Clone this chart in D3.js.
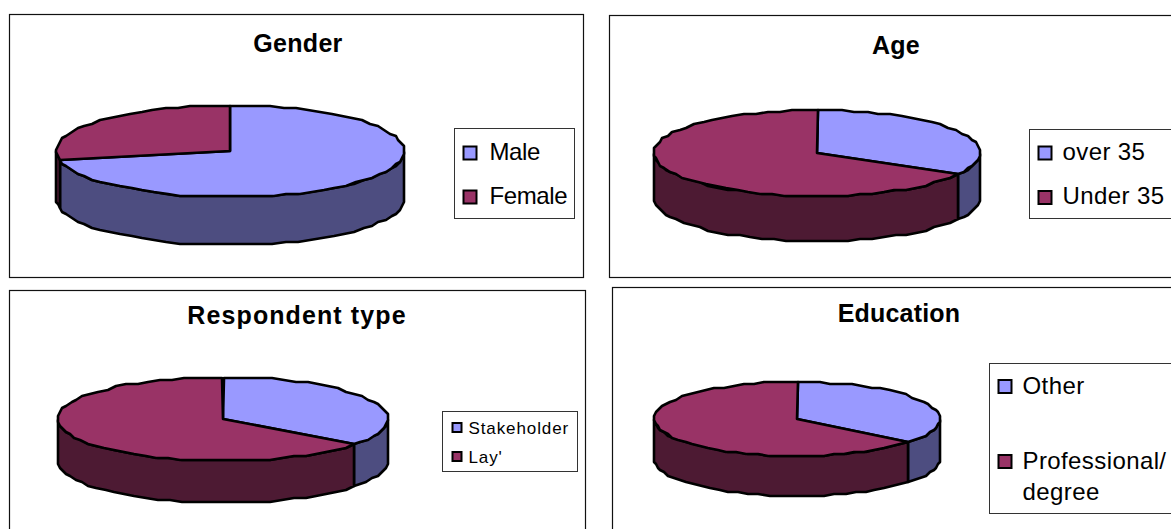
<!DOCTYPE html>
<html>
<head>
<meta charset="utf-8">
<style>
html,body{margin:0;padding:0;background:#fff;overflow:hidden}
svg{display:block}
text{font-family:"Liberation Sans",Arial,sans-serif;fill:#000}
</style>
<script src="https://cdn.jsdelivr.net/npm/d3@7"></script>
</head>
<body>
<svg id="chart" width="1171" height="529"></svg>
<script>
// Survey sample breakdowns
const titles = ["Gender", "Age", "Respondent type", "Education"];
const genderLabels = ["Male", "Female"];
const genderValues = [72, 28];
const ageLabels = ["over 35", "Under 35"];
const ageValues = [33.5, 66.5];
const respondentLabels = ["Stakeholder", "Lay'"];
const respondentValues = [35.5, 64.5];
const educationLabels = ["Other", ["Professional/", "degree"]];
const educationValues = [36, 64];

const topColours = ["#9999ff", "#993366"];
const wallColours = ["#4d4d80", "#4d1a33"];

// Panel geometry, kept apart from the values
const layouts = [
  {labels: genderLabels, values: genderValues,
   box: [9.5, 14.5, 574, 263], cx: 230, cy: 151, rx: 174, ry: 46, depth: 48,
   titleX: 298, titleY: 52, titleGap: 0.3,
   legend: {x: 454.5, y: 128.5, w: 120, h: 90, sw: 13, swX: 9, textX: 35, size: 24, gap: -0.4, rows: [24.5, 68.5], base: 6.5}},
  {labels: ageLabels, values: ageValues,
   box: [609.5, 15.5, 600, 262], cx: 817, cy: 153, rx: 163, ry: 43, depth: 45,
   titleX: 896, titleY: 54, titleGap: 0.3,
   legend: {x: 1029.5, y: 129.5, w: 160, h: 89, sw: 13, swX: 9, textX: 33, size: 24, gap: 0.4, rows: [23.5, 68], base: 6.5}},
  {labels: respondentLabels, values: respondentValues,
   box: [9.5, 290.5, 576, 260], cx: 223, cy: 419, rx: 165, ry: 42, depth: 42,
   titleX: 297, titleY: 324, titleGap: 1.1,
   legend: {x: 442.5, y: 411.5, w: 135, h: 60, sw: 9, swX: 10, textX: 26, size: 17, gap: 0.9, rows: [16, 45], base: 6}},
  {labels: educationLabels, values: educationValues,
   box: [612.5, 287.5, 600, 260], cx: 797, cy: 419, rx: 143, ry: 37, depth: 40,
   titleX: 899, titleY: 322, titleGap: 0.2,
   legend: {x: 989.5, y: 363.5, w: 200, h: 150, sw: 13, swX: 9, textX: 33, size: 24, gap: 0.4, rows: [23, 98], base: 7, lineGap: 31}}
];
layouts.forEach((d, i) => { d.title = titles[i]; });

const svg = d3.select("#chart");
const pie = d3.pie().sort(null).value(d => d).startAngle(0).endAngle(2 * Math.PI);
const RIM_STEP = Math.PI / 40;
const RIM_SNAP = 2;
const polygon = d3.line().curve(d3.curveLinearClosed);
const snap = v => Math.round(v / RIM_SNAP) * RIM_SNAP;

// Angle samples along an arc, snapped to a coarse grid to give the rim its faceted edge
function rim(p, a0, a1, dy) {
  const n = Math.max(1, Math.ceil((a1 - a0) / RIM_STEP));
  const t = d3.scaleLinear().domain([0, n]).range([a0, a1]);
  const x = d3.scaleLinear().domain([-1, 1]).range([p.cx - p.rx, p.cx + p.rx]);
  const y = d3.scaleLinear().domain([-1, 1]).range([p.cy - p.ry, p.cy + p.ry]);
  return d3.range(n + 1).map(k => {
    const a = t(k);
    return [snap(x(Math.sin(a))), snap(y(-Math.cos(a))) + dy];
  });
}

function drawPanel(p) {
  const g = svg.append("g");
  g.append("rect").attr("x", p.box[0]).attr("y", p.box[1]).attr("width", p.box[2]).attr("height", p.box[3])
    .attr("fill", "#fff").attr("stroke", "#111").attr("stroke-width", 1.2);

  g.append("text").attr("x", p.titleX).attr("y", p.titleY).attr("text-anchor", "middle")
    .attr("font-size", 25).attr("font-weight", "bold").attr("letter-spacing", p.titleGap).text(p.title);

  const arcs = pie(p.values);

  // Side wall: only the front half of the rim is visible
  arcs.forEach((a, i) => {
    const a0 = Math.max(a.startAngle, Math.PI / 2);
    const a1 = Math.min(a.endAngle, 3 * Math.PI / 2);
    if (a1 <= a0) return;
    const pts = rim(p, a0, a1, 0).concat(rim(p, a0, a1, p.depth).reverse());
    g.append("path").attr("d", polygon(pts)).attr("fill", wallColours[i])
      .attr("stroke", "#000").attr("stroke-width", 2.6).attr("stroke-linejoin", "round");
  });

  // Top face slices
  arcs.forEach((a, i) => {
    const pts = [[p.cx, p.cy]].concat(rim(p, a.startAngle, a.endAngle, 0));
    g.append("path").attr("d", polygon(pts)).attr("fill", topColours[i])
      .attr("stroke", "#000").attr("stroke-width", 2.6).attr("stroke-linejoin", "round");
  });

  // Legend
  const L = p.legend;
  const lg = g.append("g").attr("transform", `translate(${L.x},${L.y})`);
  lg.append("rect").attr("width", L.w).attr("height", L.h).attr("fill", "#fff")
    .attr("stroke", "#333").attr("stroke-width", 1);
  p.labels.forEach((label, i) => {
    const yc = L.rows[i];
    lg.append("rect").attr("x", L.swX).attr("y", yc - L.sw / 2).attr("width", L.sw).attr("height", L.sw)
      .attr("fill", topColours[i]).attr("stroke", "#000").attr("stroke-width", 2);
    const lines = Array.isArray(label) ? label : [label];
    lines.forEach((s, j) => {
      lg.append("text").attr("x", L.textX).attr("y", yc + L.base + j * (L.lineGap || 0))
        .attr("font-size", L.size).attr("letter-spacing", L.gap).text(s);
    });
  });
}

layouts.forEach(drawPanel);
</script>
</body>
</html>
